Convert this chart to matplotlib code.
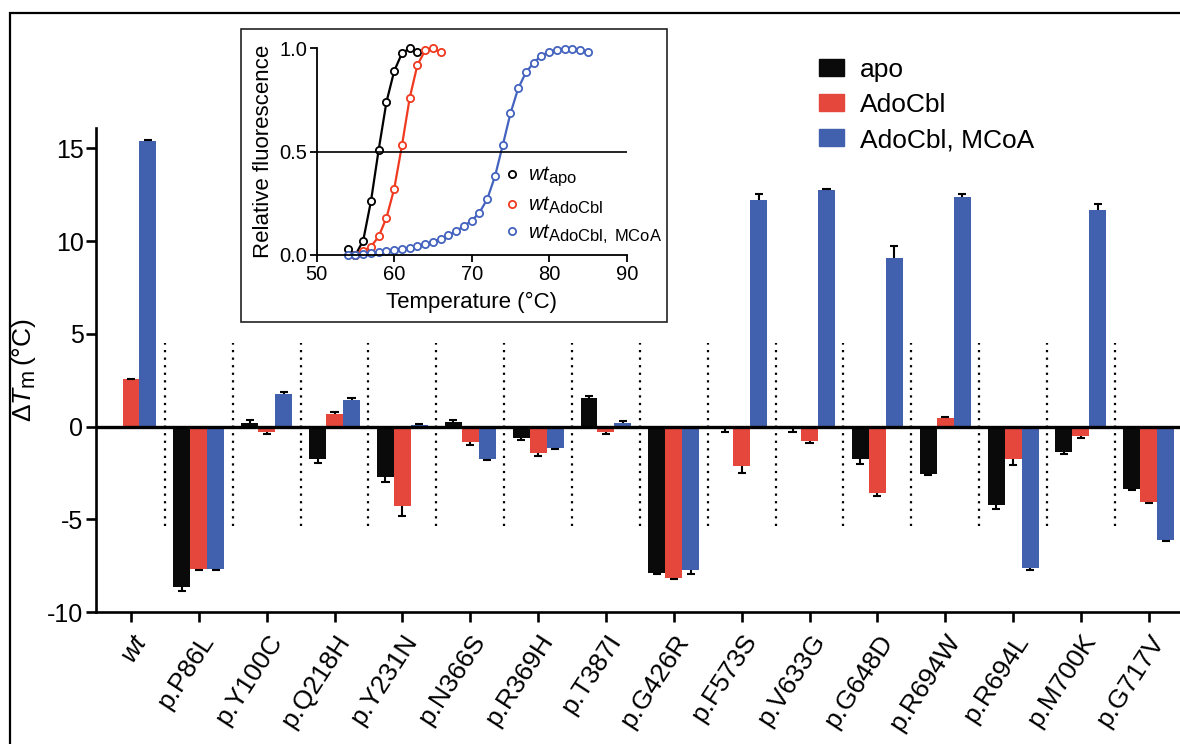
import matplotlib
matplotlib.use('Agg')
import matplotlib.pyplot as plt
import numpy as np
from matplotlib.patches import Rectangle, Patch
from matplotlib.lines import Line2D
try:
    import matplotlib._mathtext as _mt
    _mt.SHRINK_FACTOR = 0.82
except Exception:
    pass

plt.rcParams['font.family'] = ['Liberation Sans', 'DejaVu Sans']
plt.rcParams['mathtext.fontset'] = 'custom'
plt.rcParams['mathtext.rm'] = 'Liberation Sans'
plt.rcParams['mathtext.it'] = 'Liberation Sans:italic'
plt.rcParams['mathtext.bf'] = 'Liberation Sans:bold'
plt.rcParams['axes.unicode_minus'] = False

# ---------------- data ----------------
categories = ['wt', 'p.P86L', 'p.Y100C', 'p.Q218H', 'p.Y231N', 'p.N366S', 'p.R369H',
              'p.T387I', 'p.G426R', 'p.F573S', 'p.V633G', 'p.G648D', 'p.R694W',
              'p.R694L', 'p.M700K', 'p.G717V']
series_names = ['apo', 'AdoCbl', 'AdoCbl, MCoA']

apo = [0.0, -8.66, 0.18, -1.76, -2.74, 0.27, -0.59, 1.54, -7.89, -0.10, -0.10,
       -1.76, -2.56, -4.23, -1.36, -3.37]
apo_err = [0.0, 0.23, 0.18, 0.21, 0.24, 0.07, 0.15, 0.13, 0.04, 0.22, 0.22,
           0.27, 0.06, 0.22, 0.13, 0.05]
adocbl = [2.54, -7.67, -0.29, 0.70, -4.27, -0.81, -1.45, -0.27, -8.17, -2.12, -0.77,
          -3.59, 0.45, -1.76, -0.50, -4.05]
adocbl_err = [0.04, 0.04, 0.12, 0.09, 0.53, 0.18, 0.16, 0.11, 0.03, 0.39, 0.13,
              0.14, 0.09, 0.30, 0.13, 0.09]
mcoa = [15.41, -7.67, 1.74, 1.41, 0.08, -1.76, -1.17, 0.21, -7.76, 12.22, 12.76,
        9.08, 12.40, -7.62, 11.68, -6.10]
mcoa_err = [0.04, 0.09, 0.12, 0.15, 0.05, 0.04, 0.05, 0.09, 0.20, 0.32, 0.07,
            0.63, 0.14, 0.14, 0.32, 0.05]

# inset melting curves
temp_apo = [54, 55, 56, 57, 58, 59, 60, 61, 62, 63]
fl_apo = [0.03, 0.0, 0.07, 0.26, 0.51, 0.74, 0.89, 0.976, 1.0, 0.98]
temp_ado = [55, 56, 57, 58, 59, 60, 61, 62, 63, 64, 65, 66]
fl_ado = [0.0, 0.02, 0.04, 0.09, 0.18, 0.32, 0.53, 0.76, 0.92, 0.99, 1.0, 0.98]
temp_mcoa = [54, 55, 56, 57, 58, 59, 60, 61, 62, 63, 64, 65, 66, 67, 68, 69, 70,
             71, 72, 73, 74, 75, 76, 77, 78, 79, 80, 81, 82, 83, 84, 85]
fl_mcoa = [0.0, 0.0, 0.005, 0.01, 0.014, 0.02, 0.025, 0.03, 0.035, 0.044,
           0.052, 0.065, 0.079, 0.095, 0.116, 0.14, 0.166, 0.205, 0.27, 0.38,
           0.53, 0.685, 0.806, 0.884, 0.93, 0.965, 0.984, 0.992, 0.997, 0.997,
           0.992, 0.98]
inset_labels = [r'$\mathit{wt}_{\mathrm{apo}}$', r'$\mathit{wt}_{\mathrm{AdoCbl}}$',
                r'$\mathit{wt}_{\mathrm{AdoCbl,\ MCoA}}$']

# ---------------- style ----------------
c_black = '#0a0a0a'
c_red = '#e5473c'
c_blue = '#4160ad'
l_red = '#f03a20'
l_blue = '#4463bf'

W, H = 1180, 744
fig = plt.figure(figsize=(W / 100, H / 100), dpi=100)

ax = fig.add_axes([96 / W, (H - 612) / H, (1182.7 - 96) / W, (612 - 128) / H])
x = np.arange(len(categories))
bw = 0.25
cap = 0.06
for vals, errs, col, off in [(apo, apo_err, c_black, -bw),
                             (adocbl, adocbl_err, c_red, 0.0),
                             (mcoa, mcoa_err, c_blue, bw)]:
    v = np.array(vals)
    e = np.array(errs)
    ax.bar(x + off, v, width=bw, color=col, edgecolor='none', zorder=2)
    ends = v + np.where(v >= 0, 1, -1) * e
    m = e > 0
    ax.vlines(x[m] + off, v[m], ends[m], color='black', lw=1.5, zorder=3)
    ax.hlines(ends[m], x[m] + off - cap, x[m] + off + cap, color='black', lw=1.5, zorder=3)

ax.vlines(x[:-1] + 0.5, -5.34, 4.48, colors='black', lw=1.6,
          linestyles=(0, (1, 2.4)), zorder=1)
ax.axhline(0, color='black', lw=2.4, zorder=4)

ax.set_xlim(-0.516, 15.5)
ax.set_ylim(-10, 16.1)
for s in ['top', 'right']:
    ax.spines[s].set_visible(False)
for s in ['left', 'bottom']:
    ax.spines[s].set_linewidth(1.9)
ax.set_yticks([-10, -5, 0, 5, 10, 15])
ax.tick_params(axis='both', length=7, width=1.9, labelsize=18, pad=2)
ax.tick_params(axis='x', pad=6)
ax.set_xticks(x)
ax.set_xticklabels(categories, rotation=57, ha='right', va='top',
                   rotation_mode='anchor', fontsize=19)
ax.get_xticklabels()[0].set_fontstyle('italic')
ax.set_ylabel(r'$\Delta\mathit{T}_{\mathrm{m}}\,$(°C)', fontsize=19)
ax.yaxis.set_label_coords(-0.053, 0.5)

fig.legend(handles=[Patch(color=c_black), Patch(color=c_red), Patch(color=c_blue)],
           labels=series_names, loc='upper left', bbox_to_anchor=(819 / W, 1 - 58 / H),
           frameon=False, fontsize=19, handlelength=0.95, handleheight=0.6,
           handletextpad=0.6, labelspacing=0.42, borderpad=0, borderaxespad=0)

# outer frame (cropped at right/bottom)
fig.add_artist(Rectangle((10 / W, -0.5), 2, (H - 13) / H + 0.5, transform=fig.transFigure,
                         fill=False, lw=1.6, ec='black'))
# inset frame
fig.add_artist(Rectangle((241 / W, (H - 321.7) / H), (666.7 - 241) / W, (321.7 - 29.3) / H,
                         transform=fig.transFigure, fill=False, lw=1.2, ec='#222222'))

# ---------------- inset ----------------
axin = fig.add_axes([316.7 / W, (H - 255) / H, 310 / W, 206.7 / H])
axin.patch.set_alpha(0)
for t, f, col in [(temp_apo, fl_apo, 'black'), (temp_ado, fl_ado, l_red),
                  (temp_mcoa, fl_mcoa, l_blue)]:
    axin.plot(t, f, '-o', color=col, lw=1.6, ms=5.2, mfc='white', mew=1.3, clip_on=False)
axin.axhline(0.5, color='black', lw=1.2)
axin.set_xlim(50, 90)
axin.set_ylim(0, 1)
for s in ['top', 'right']:
    axin.spines[s].set_visible(False)
for s in ['left', 'bottom']:
    axin.spines[s].set_linewidth(1.3)
axin.set_xticks([50, 60, 70, 80, 90])
axin.set_yticks([0, 0.5, 1.0])
axin.set_yticklabels(['0.0', '0.5', '1.0'])
axin.tick_params(axis='both', length=5, width=1.3, labelsize=14.5, pad=2)
axin.set_xlabel('Temperature (°C)', fontsize=16, labelpad=6)
axin.set_ylabel('Relative fluorescence', fontsize=16, labelpad=4)
hs = [Line2D([], [], ls='none', marker='o', ms=5.2, mfc='white', mew=1.3, color=c)
      for c in ['black', l_red, l_blue]]
axin.legend(hs, inset_labels, loc='upper left', bbox_to_anchor=(506 / W, 1 - 165 / H),
            bbox_transform=fig.transFigure, frameon=False, fontsize=14.5,
            handlelength=0.6, handletextpad=0.5, labelspacing=0.3, borderpad=0,
            borderaxespad=0)

fig.savefig('out.png', dpi=100)
